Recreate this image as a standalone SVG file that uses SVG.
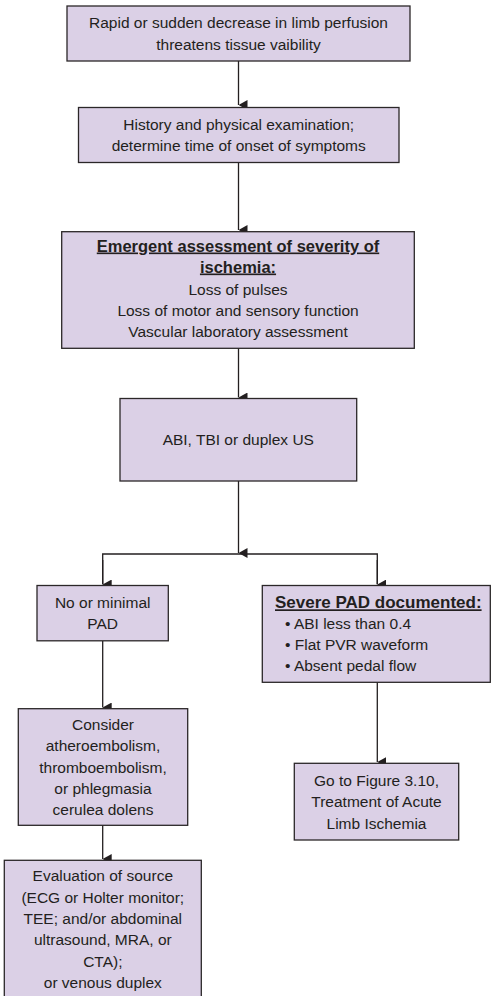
<svg xmlns="http://www.w3.org/2000/svg" width="491" height="996" viewBox="0 0 491 996">
<defs>
<style>
.box{fill:#dbd0e6;stroke:#2b2728;stroke-width:1.3}
.t{font-family:"Liberation Sans",Arial,sans-serif;font-size:15.5px;fill:#231f20;text-anchor:middle}
.l{text-anchor:start}
.b{font-weight:bold;text-decoration:underline;font-size:16.5px}
.b2{font-size:17px}
.c{fill:none;stroke:#231f20;stroke-width:1.3}
</style>
<marker id="ah" markerUnits="userSpaceOnUse" markerWidth="10" markerHeight="9" refX="5" refY="9" orient="auto-start-reverse" viewBox="0 0 10 9">
<path d="M0,0 L10,0 L5,9 Z" fill="#231f20"/>
</marker>
</defs>
<rect width="491" height="996" fill="#ffffff"/>
<g id="connectors">
<line class="c" x1="238.5" y1="61" x2="238.5" y2="105" marker-end="url(#ah)"/>
<line class="c" x1="238.5" y1="162" x2="238.5" y2="230" marker-end="url(#ah)"/>
<line class="c" x1="238.5" y1="348" x2="238.5" y2="397.5" marker-end="url(#ah)"/>
<line class="c" x1="238.5" y1="481" x2="238.5" y2="553" marker-end="url(#ah)"/>
<polyline class="c" points="102.7,584 102.7,554 377.3,554 377.3,584"/>
<line class="c" x1="102.7" y1="560" x2="102.7" y2="584.5" marker-end="url(#ah)"/>
<line class="c" x1="377.3" y1="560" x2="377.3" y2="584.5" marker-end="url(#ah)"/>
<line class="c" x1="102.7" y1="641" x2="102.7" y2="707.5" marker-end="url(#ah)"/>
<line class="c" x1="377.3" y1="682" x2="377.3" y2="762" marker-end="url(#ah)"/>
<line class="c" x1="102.7" y1="825" x2="102.7" y2="859" marker-end="url(#ah)"/>
</g>
<g id="n1">
<rect class="box" x="67" y="6" width="343" height="55"/>
<text class="t" x="238.5" y="28">Rapid or sudden decrease in limb perfusion</text>
<text class="t" x="238.5" y="49.5">threatens tissue vaibility</text>
</g>
<g id="n2">
<rect class="box" x="78.5" y="107.5" width="320.5" height="55"/>
<text class="t" x="238.7" y="130">History and physical examination;</text>
<text class="t" x="238.7" y="151">determine time of onset of symptoms</text>
</g>
<g id="n3">
<rect class="box" x="61.7" y="231.7" width="352.6" height="116.6"/>
<text class="t b" x="238" y="251.5">Emergent assessment of severity of</text>
<text class="t b" x="238" y="272.5">ischemia:</text>
<text class="t" x="238" y="294.5">Loss of pulses</text>
<text class="t" x="238" y="315.5">Loss of motor and sensory function</text>
<text class="t" x="238" y="337">Vascular laboratory assessment</text>
</g>
<g id="n4">
<rect class="box" x="120" y="398.5" width="236.7" height="82.5"/>
<text class="t" x="238.3" y="445">ABI, TBI or duplex US</text>
</g>
<g id="n5">
<rect class="box" x="37" y="585.5" width="131.3" height="55.3"/>
<text class="t" x="102.7" y="608.3">No or minimal</text>
<text class="t" x="102.7" y="629.3">PAD</text>
</g>
<g id="n6">
<rect class="box" x="262.3" y="585.5" width="228" height="96.8"/>
<text class="t b l b2" x="275" y="608.3">Severe PAD documented:</text>
<text class="t l" x="285" y="628.5">• ABI less than 0.4</text>
<text class="t l" x="285" y="650">• Flat PVR waveform</text>
<text class="t l" x="285" y="671">• Absent pedal flow</text>
</g>
<g id="n7">
<rect class="box" x="18.3" y="708.7" width="169.4" height="116.6"/>
<text class="t" x="103" y="730">Consider</text>
<text class="t" x="103" y="751.3">atheroembolism,</text>
<text class="t" x="103" y="772.7">thromboembolism,</text>
<text class="t" x="103" y="793.5">or phlegmasia</text>
<text class="t" x="103" y="815">cerulea dolens</text>
</g>
<g id="n8">
<rect class="box" x="294.3" y="763.3" width="164.4" height="76.7"/>
<text class="t" x="376.5" y="786">Go to Figure 3.10,</text>
<text class="t" x="376.5" y="807.3">Treatment of Acute</text>
<text class="t" x="376.5" y="829">Limb Ischemia</text>
</g>
<g id="n9">
<rect class="box" x="4.3" y="860.3" width="197" height="150"/>
<text class="t" x="102.8" y="881">Evaluation of source</text>
<text class="t" x="102.8" y="902.5">(ECG or Holter monitor;</text>
<text class="t" x="102.8" y="924.3">TEE; and/or abdominal</text>
<text class="t" x="102.8" y="945">ultrasound, MRA, or</text>
<text class="t" x="102.8" y="966.7">CTA);</text>
<text class="t" x="102.8" y="988.3">or venous duplex</text>
</g>
</svg>
